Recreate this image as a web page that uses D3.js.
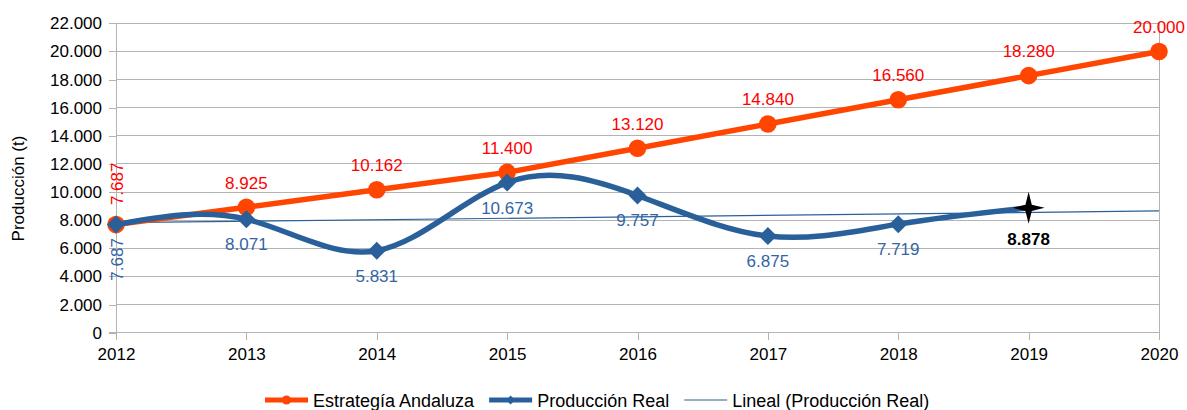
<!DOCTYPE html>
<html>
<head>
<meta charset="utf-8">
<script src="https://cdn.jsdelivr.net/npm/d3@7"></script>
<style>
  html, body { margin: 0; padding: 0; background: #ffffff; }
  svg { display: block; font-family: "Liberation Sans", Arial, sans-serif; }
</style>
</head>
<body>
<svg id="chart" width="1187" height="410"></svg>
<script>
// ---- data ----
const years = [2012, 2013, 2014, 2015, 2016, 2017, 2018, 2019, 2020];
const estrategia = [7687, 8925, 10162, 11400, 13120, 14840, 16560, 18280, 20000];
const realYears = [2012, 2013, 2014, 2015, 2016, 2017, 2018, 2019];
const real = [7687, 8071, 5831, 10673, 9757, 6875, 7719, 8878];
const yTicks = [0, 2000, 4000, 6000, 8000, 10000, 12000, 14000, 16000, 18000, 20000, 22000];
const seriesNames = ["Estrategía Andaluza", "Producción Real", "Lineal (Producción Real)"];
const yTitle = "Producción (t)";

// ---- styles ----
const ORANGE = "#ff4500", RED = "#ff0000", BLUE = "#2a6099", BLUE_LBL = "#3465a4", GRID = "#b3b3b3";

const loc = d3.formatLocale({decimal: ",", thousands: ".", grouping: [3], currency: ["", ""]});
const fmt = loc.format(",d");

const svg = d3.select("#chart");
const x = d3.scaleLinear().domain([2012, 2020]).range([116, 1159]);
const y = d3.scaleLinear().domain([0, 22000]).range([332.7, 23.3]);

// grid
svg.append("g").selectAll("line").data(yTicks).join("line")
  .attr("x1", x(2012)).attr("x2", x(2020))
  .attr("y1", d => y(d)).attr("y2", d => y(d))
  .attr("stroke", GRID).attr("stroke-width", 1).attr("shape-rendering", "crispEdges");
svg.append("line").attr("x1", x(2020)).attr("x2", x(2020)).attr("y1", y(22000)).attr("y2", y(0))
  .attr("stroke", GRID).attr("shape-rendering", "crispEdges");

// axes
const yAxis = d3.axisLeft(y).tickValues(yTicks).tickFormat(d => fmt(d)).tickSize(7).tickPadding(7);
const gy = svg.append("g").attr("transform", `translate(${x(2012)},0)`).call(yAxis);
const xAxis = d3.axisBottom(x).tickValues(years).tickFormat(d3.format("d")).tickSize(7).tickPadding(8);
const gx = svg.append("g").attr("transform", `translate(0,${y(0)})`).call(xAxis);
[gx, gy].forEach(g => {
  g.select(".domain").attr("stroke", GRID).attr("shape-rendering", "crispEdges");
  g.selectAll(".tick line").attr("stroke", GRID).attr("shape-rendering", "crispEdges");
  g.selectAll(".tick text").attr("fill", "#000").attr("font-size", 17)
    .attr("font-family", "'Liberation Sans', Arial, sans-serif");
});
gy.select(".domain").attr("d", `M0,${y(22000)}V${y(0) + 7}`);
gx.select(".domain").attr("d", `M${x(2012) - 7},0H${x(2020)}`);

// axis title
svg.append("text").attr("transform", `translate(23.5,188.5) rotate(-90)`)
  .attr("text-anchor", "middle").attr("font-size", 17).attr("fill", "#000").text(yTitle);

// trend line (least squares on Producción Real)
const mx = d3.mean(realYears), my = d3.mean(real);
const slope = d3.sum(realYears, (xv, i) => (xv - mx) * (real[i] - my)) / d3.sum(realYears, xv => (xv - mx) ** 2);
const icpt = my - slope * mx;
svg.append("line")
  .attr("x1", x(2012)).attr("y1", y(icpt + slope * 2012))
  .attr("x2", x(2020)).attr("y2", y(icpt + slope * 2020))
  .attr("stroke", BLUE).attr("stroke-width", 1.2);

// orange series
const orangeData = years.map((yr, i) => ({x: yr, v: estrategia[i]}));
svg.append("path").datum(orangeData)
  .attr("d", d3.line().x(d => x(d.x)).y(d => y(d.v)))
  .attr("fill", "none").attr("stroke", ORANGE).attr("stroke-width", 5.5);
svg.append("g").selectAll("circle").data(orangeData).join("circle")
  .attr("cx", d => x(d.x)).attr("cy", d => y(d.v)).attr("r", 8.8).attr("fill", ORANGE);

// blue series
const blueData = realYears.map((yr, i) => ({x: yr, v: real[i]}));
svg.append("path").datum(blueData)
  .attr("d", d3.line().x(d => x(d.x)).y(d => y(d.v)).curve(d3.curveNatural))
  .attr("fill", "none").attr("stroke", BLUE).attr("stroke-width", 5.5);
svg.append("g").selectAll("path").data(blueData.slice(0, -1)).join("path")
  .attr("transform", d => `translate(${x(d.x)},${y(d.v)})`)
  .attr("d", "M0,-9L9,0L0,9L-9,0Z").attr("fill", BLUE);

// star marker on last real point
const last = blueData[blueData.length - 1];
const starPts = d3.range(8).map(i => [i * Math.PI / 4, i % 2 === 0 ? 16 : 4.5]);
svg.append("path")
  .attr("transform", `translate(${x(last.x)},${y(last.v)})`)
  .attr("d", d3.lineRadial().curve(d3.curveLinearClosed)(starPts))
  .attr("fill", "#000");

// orange labels
svg.append("g").selectAll("text").data(orangeData.slice(1)).join("text")
  .attr("x", d => x(d.x)).attr("y", d => y(d.v) - 18.6)
  .attr("text-anchor", "middle").attr("font-size", 17).attr("fill", RED)
  .text(d => fmt(d.v));
svg.append("text")
  .attr("transform", `translate(${x(2012) + 6.5},${y(estrategia[0]) - 19.5}) rotate(-90)`)
  .attr("text-anchor", "start").attr("font-size", 17).attr("fill", RED)
  .text(fmt(estrategia[0]));

// blue labels
svg.append("g").selectAll("text").data(blueData.slice(1, -1)).join("text")
  .attr("x", d => x(d.x)).attr("y", d => y(d.v) + 31)
  .attr("text-anchor", "middle").attr("font-size", 17).attr("fill", BLUE_LBL)
  .text(d => fmt(d.v));
svg.append("text")
  .attr("transform", `translate(${x(2012) + 6.5},${y(real[0]) + 13.5}) rotate(-90)`)
  .attr("text-anchor", "end").attr("font-size", 17).attr("fill", BLUE_LBL)
  .text(fmt(real[0]));
svg.append("text")
  .attr("x", x(last.x)).attr("y", y(last.v) + 37)
  .attr("text-anchor", "middle").attr("font-size", 17).attr("font-weight", "bold").attr("fill", "#000")
  .text(fmt(last.v));

// legend
const leg = svg.append("g");
let lx = 265;
const ly = 400;
seriesNames.forEach((name, i) => {
  const g = leg.append("g");
  if (i === 0) {
    g.append("line").attr("x1", lx).attr("x2", lx + 43).attr("y1", ly).attr("y2", ly)
      .attr("stroke", ORANGE).attr("stroke-width", 5);
    g.append("circle").attr("cx", lx + 21.5).attr("cy", ly).attr("r", 4.5).attr("fill", ORANGE);
  } else if (i === 1) {
    g.append("line").attr("x1", lx).attr("x2", lx + 43).attr("y1", ly).attr("y2", ly)
      .attr("stroke", BLUE).attr("stroke-width", 5);
    g.append("path").attr("transform", `translate(${lx + 21.5},${ly})`)
      .attr("d", "M0,-4.5L4.5,0L0,4.5L-4.5,0Z").attr("fill", BLUE);
  } else {
    g.append("line").attr("x1", lx).attr("x2", lx + 43).attr("y1", ly).attr("y2", ly)
      .attr("stroke", BLUE).attr("stroke-width", 1.2);
  }
  const t = g.append("text").attr("x", lx + 48).attr("y", ly + 6.5)
    .attr("font-size", 18).attr("fill", "#000").text(name);
  lx = lx + 48 + t.node().getComputedTextLength() + 15;
});
</script>
</body>
</html>
